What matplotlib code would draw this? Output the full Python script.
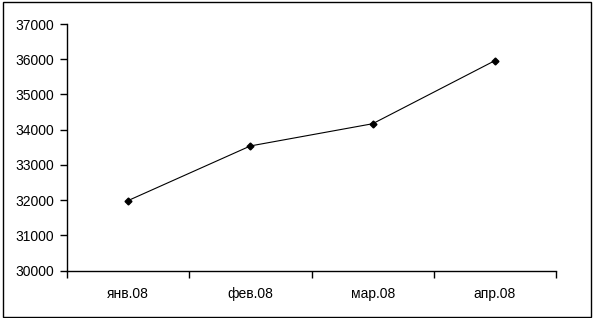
import matplotlib
matplotlib.use("Agg")
import matplotlib.pyplot as plt
from matplotlib.patches import Rectangle
import numpy as np

months = ["янв.08", "фев.08", "мар.08", "апр.08"]
values = [31990, 33540, 34170, 35960]
y_ticks = [30000, 31000, 32000, 33000, 34000, 35000, 36000, 37000]

plt.rcParams['font.family'] = ['Liberation Sans', 'DejaVu Sans']

fig = plt.figure(figsize=(5.93, 3.18), dpi=100)
ax = fig.add_axes([67 / 593, 1 - 270.7 / 318, (556 - 67) / 593, (270.7 - 24) / 318])

x = np.arange(len(months))
ax.plot(x, values, color="black", linewidth=0.8, marker="D", markersize=3.5)

ax.set_xlim(-0.5, len(months) - 0.5)
ax.set_ylim(y_ticks[0], y_ticks[-1])
ax.set_yticks(y_ticks)
ax.set_yticklabels([str(v) for v in y_ticks], fontsize=10)

# labels in the middle, ticks on the category boundaries
ax.set_xticks(x)
ax.set_xticklabels(months, fontsize=10)
ax.set_xticks(np.arange(-0.5, len(months)), minor=True)
ax.tick_params(axis="x", which="major", length=0, pad=12)
ax.tick_params(axis="x", which="minor", length=5, width=1, direction="out")
ax.tick_params(axis="y", length=5, width=1, direction="out", pad=4)

ax.spines["top"].set_visible(False)
ax.spines["right"].set_visible(False)
ax.spines["left"].set_linewidth(1)
ax.spines["bottom"].set_linewidth(1)

# outer frame of the chart
fig.patches.append(Rectangle((3 / 593, 1.5 / 318), 588 / 593, 314.5 / 318,
                             transform=fig.transFigure, fill=False,
                             edgecolor="black", linewidth=1))

fig.savefig("out.png", dpi=100)
